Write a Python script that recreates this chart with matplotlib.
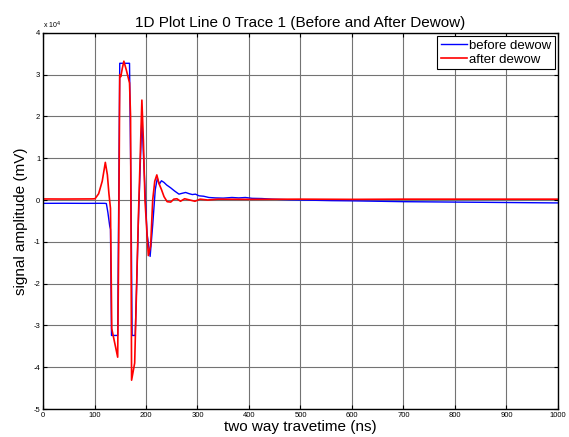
import matplotlib.pyplot as plt
from matplotlib.ticker import FuncFormatter, MultipleLocator

plt.rcParams['font.family'] = ['Liberation Sans', 'DejaVu Sans']

# before dewow (time in ns, amplitude in mV)
t_before = [0, 40, 80, 110, 120, 123, 126, 129.5, 131, 133, 145, 147, 149, 168, 171, 173, 179,
            186, 192, 196, 202, 208, 213, 218, 222, 226, 230, 235, 240, 248, 255, 264, 270,
            277, 284, 290, 296, 303, 312, 322, 335, 350, 367, 380, 393, 406, 425, 445,
            480, 520, 560, 600, 650, 700, 750, 800, 850, 900, 950, 1000]
a_before = [-800, -780, -800, -790, -800, -850, -3000, -6200, -7000, -32400, -32400, 0, 32700,
            32700, 0, -32400, -32400, -2000, 19700, 8000, -8000, -13500, -6000, 2500, 5200, 3800,
            4600, 4200, 3600, 2900, 2200, 1400, 1600, 1800, 1500, 1300, 1400, 1000, 900, 600,
            500, 450, 600, 500, 600, 400, 350, 200, 50, -50, -150, -200, -300, -400, -450,
            -500, -550, -600, -650, -700]

# after dewow
t_after = [0, 40, 80, 95, 101, 108, 115, 121, 125, 128, 131, 133.5, 145, 147, 149, 151, 154,
           157, 162, 168, 170, 172, 178, 185, 192, 195, 198, 204.5, 209, 213, 217, 221, 225,
           230, 235, 241, 248, 254, 260, 267, 275, 285, 295, 305, 320, 340, 400, 500, 600,
           700, 800, 900, 1000]
a_after = [250, 230, 250, 260, 300, 1500, 4500, 9000, 6000, 1500, -2000, -30800, -37600, -10000,
           30000, 29500, 31500, 33200, 31000, 28000, 20000, -43100, -39000, -5000, 23900, 14000,
           0, -13300, -11000, 0, 4500, 6000, 4000, 2500, 800, -400, -500, 200, 300, -300,
           300, 0, -300, 200, 0, 200, 150, 200, 150, 200, 200, 200, 200]

fig = plt.figure(figsize=(5.69, 4.37), dpi=100)
ax = fig.add_axes([0.0756, 0.064, 0.905, 0.861])

ax.plot(t_before, a_before, color='#0000ff', lw=1.0, label='before dewow')
ax.plot(t_after, a_after, color='#ff0000', lw=1.2, label='after dewow')

ax.set_xlim(0, 1000)
ax.set_ylim(-50000, 40000)
ax.xaxis.set_major_locator(MultipleLocator(100))
ax.yaxis.set_major_locator(MultipleLocator(10000))
ax.yaxis.set_major_formatter(FuncFormatter(lambda v, p: f"{v / 1e4:g}"))
ax.text(0.0, 1.006, r"x 10$^4$", transform=ax.transAxes, fontsize=5, ha='left', va='bottom')

ax.grid(True, color='0.45', lw=0.8)
ax.tick_params(direction='in', length=3, width=0.8, labelsize=5.5, top=True, right=True, pad=2)
for s in ax.spines.values():
    s.set_linewidth(1.0)

ax.set_title('1D Plot Line 0 Trace 1 (Before and After Dewow)', fontsize=11, pad=4)
ax.set_xlabel('two way travetime (ns)', fontsize=11, labelpad=1)
ax.set_ylabel('signal amplitude (mV)', fontsize=11, labelpad=4)

leg = ax.legend(loc='upper right', fontsize=9.5, fancybox=False, framealpha=1,
                borderaxespad=0.25, handlelength=2.0, handletextpad=0.15,
                borderpad=0.25, labelspacing=0.15)
leg.get_frame().set_edgecolor('black')
leg.get_frame().set_linewidth(0.8)

fig.savefig('out.png', dpi=100)
